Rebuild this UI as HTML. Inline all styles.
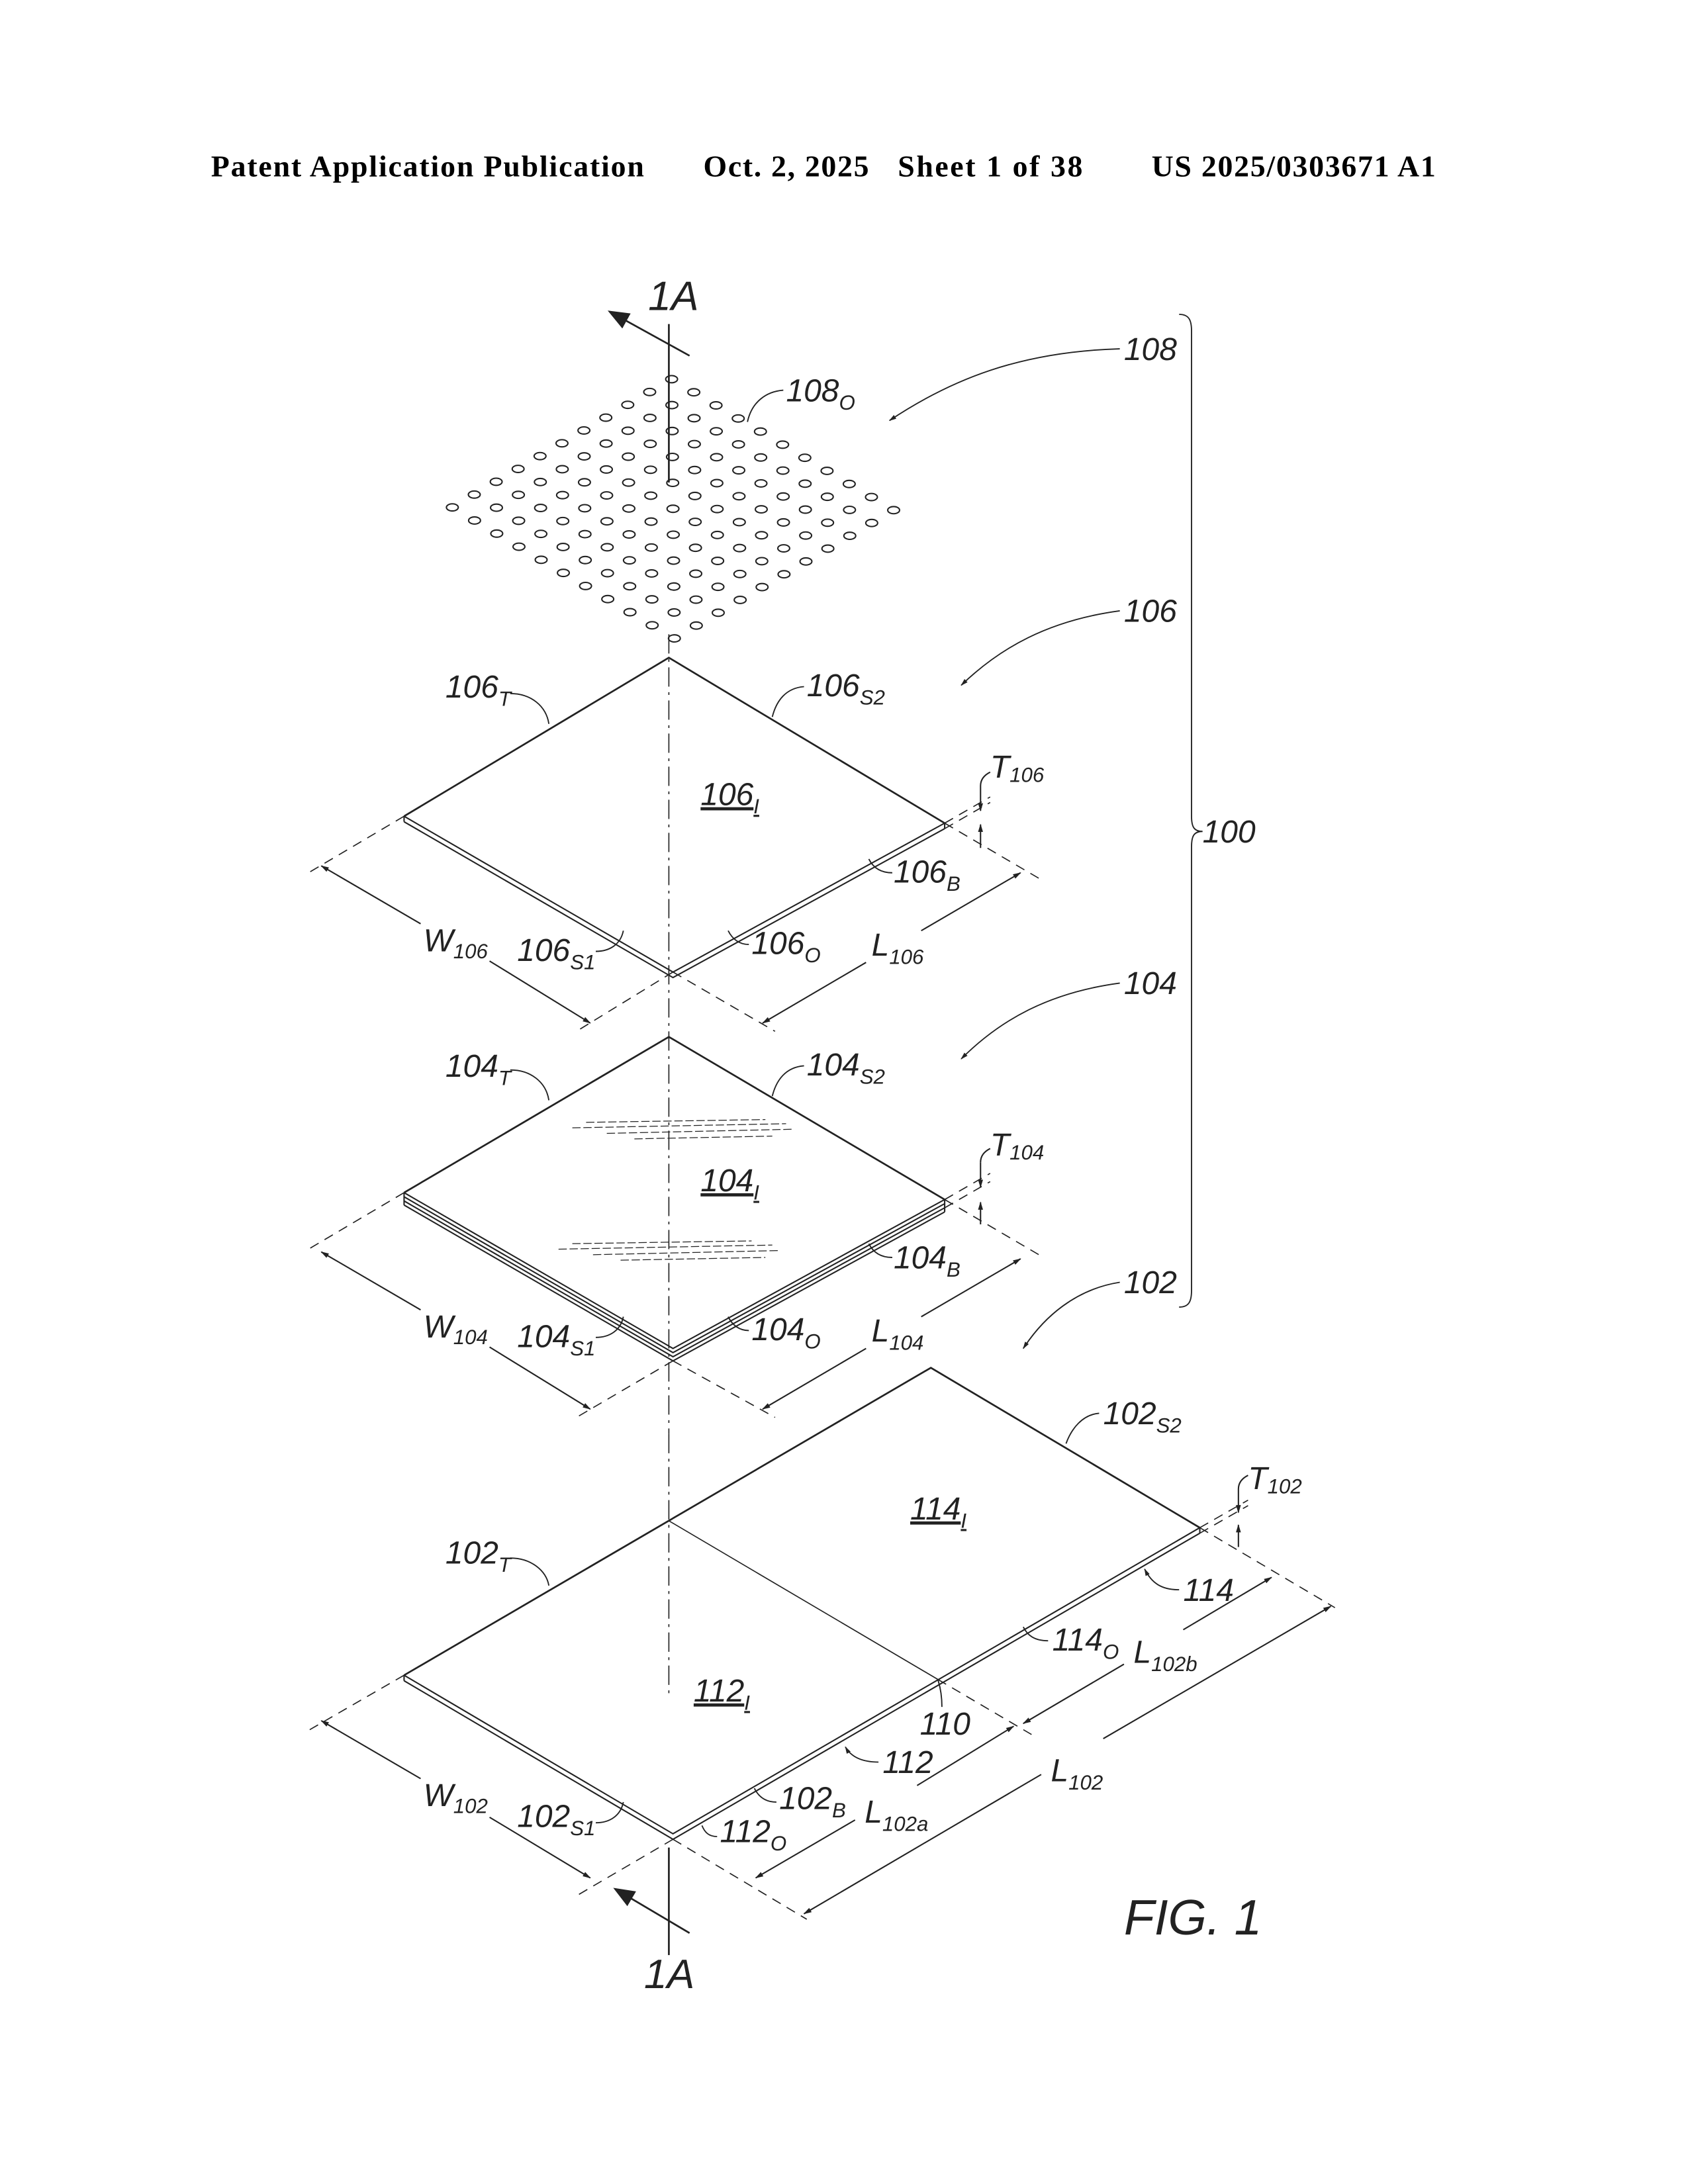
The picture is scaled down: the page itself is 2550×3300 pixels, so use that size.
<!DOCTYPE html>
<html><head><meta charset="utf-8"><style>
html,body{margin:0;padding:0;background:#fff}
svg{display:block}
.l{font-family:"Liberation Sans",sans-serif;font-style:italic;font-size:23px;fill:#222}
.s{font-size:15px}
.h{font-family:"Liberation Serif",serif;font-weight:bold;font-size:22px;fill:#000}
</style></head><body>
<svg width="2550" height="3300" viewBox="0 0 1224 1584" xmlns="http://www.w3.org/2000/svg" xmlns:xlink="http://www.w3.org/1999/xlink">
<defs>
<marker id="a" viewBox="0 0 10 10" refX="9" refY="5" markerWidth="6" markerHeight="6" orient="auto-start-reverse"><path d="M0,2 L10,5 L0,8 z" fill="#222"/></marker>
<marker id="b" viewBox="0 0 10 10" refX="9" refY="5" markerWidth="12" markerHeight="12" orient="auto"><path d="M0,1 L10,5 L0,9 z" fill="#222"/></marker>
<g id="row" fill="none" stroke="#222" stroke-width="1">
<ellipse cx="487" cy="275" rx="4.3" ry="2.6"/><ellipse cx="503.1" cy="284.5" rx="4.3" ry="2.6"/><ellipse cx="519.2" cy="294" rx="4.3" ry="2.6"/><ellipse cx="535.3" cy="303.5" rx="4.3" ry="2.6"/><ellipse cx="551.4" cy="313" rx="4.3" ry="2.6"/><ellipse cx="567.5" cy="322.5" rx="4.3" ry="2.6"/><ellipse cx="583.6" cy="332" rx="4.3" ry="2.6"/><ellipse cx="599.7" cy="341.5" rx="4.3" ry="2.6"/><ellipse cx="615.8" cy="351" rx="4.3" ry="2.6"/><ellipse cx="631.9" cy="360.5" rx="4.3" ry="2.6"/><ellipse cx="648" cy="370" rx="4.3" ry="2.6"/>
</g>
</defs>
<text class="h" x="153" y="128" textLength="314">Patent Application Publication</text>
<text class="h" x="510" y="128" textLength="120">Oct. 2, 2025</text>
<text class="h" x="651" y="128" textLength="134">Sheet 1 of 38</text>
<text class="h" x="835" y="128" textLength="206">US 2025/0303671 A1</text>

<use xlink:href="#row" href="#row"/>
<use xlink:href="#row" href="#row" transform="translate(-15.9,9.3)"/>
<use xlink:href="#row" href="#row" transform="translate(-31.8,18.6)"/>
<use xlink:href="#row" href="#row" transform="translate(-47.7,27.9)"/>
<use xlink:href="#row" href="#row" transform="translate(-63.6,37.2)"/>
<use xlink:href="#row" href="#row" transform="translate(-79.5,46.5)"/>
<use xlink:href="#row" href="#row" transform="translate(-95.4,55.8)"/>
<use xlink:href="#row" href="#row" transform="translate(-111.3,65.1)"/>
<use xlink:href="#row" href="#row" transform="translate(-127.2,74.4)"/>
<use xlink:href="#row" href="#row" transform="translate(-143.1,83.7)"/>
<use xlink:href="#row" href="#row" transform="translate(-159,93)"/>

<g stroke="#222" fill="none" stroke-width="1.3">
<line x1="485" y1="235" x2="485" y2="350"/>
<line x1="500" y1="258" x2="442" y2="226" marker-end="url(#b)"/>
<line x1="485" y1="460" x2="485" y2="1040" stroke-width="0.8" stroke-dasharray="14,4,2,4"/>
<line x1="485" y1="1040" x2="485" y2="1230" stroke-width="0.8" stroke-dasharray="14,4,2,4"/>
<line x1="485" y1="1340" x2="485" y2="1418"/>
<line x1="500" y1="1402" x2="446" y2="1370" marker-end="url(#b)"/>

<path d="M293,592 L485,477 L685,597"/>
<path d="M293,592 L488,705 L685,597 M293,596 L488,709 L685,601 M293,592 L293,596 M685,597 L685,601" stroke-width="1"/>
<path d="M293,865 L485,752 L685,870"/>
<path d="M293,865 L488,978 L685,870 M293,868 L488,981 L685,873 M293,871 L488,984 L685,876 M293,874 L488,987 L685,879 M293,865 L293,874 M685,870 L685,879" stroke-width="1"/>
<path d="M293,1215 L675,992 L870,1108"/>
<path d="M293,1215 L488,1330 L870,1108 M293,1219 L488,1334 L870,1112 M293,1215 L293,1219 M870,1108 L870,1112" stroke-width="1"/>
<line x1="485" y1="1103" x2="680" y2="1218" stroke-width="0.8"/>

<g stroke-width="0.6" stroke-dasharray="6,2">
<line x1="415" y1="818" x2="570" y2="815"/><line x1="425" y1="814" x2="555" y2="812"/><line x1="440" y1="822" x2="575" y2="819"/><line x1="460" y1="826" x2="560" y2="824"/>
<line x1="405" y1="906" x2="560" y2="903"/><line x1="415" y1="902" x2="545" y2="900"/><line x1="430" y1="910" x2="565" y2="907"/><line x1="450" y1="914" x2="555" y2="912"/>
</g>

<g stroke-width="0.8" stroke-dasharray="7,5">
<line x1="293" y1="592" x2="222" y2="634"/><line x1="488" y1="705" x2="418" y2="748"/>
<line x1="488" y1="705" x2="562" y2="748"/><line x1="685" y1="597" x2="755" y2="638"/>
<line x1="685" y1="597" x2="718" y2="578"/><line x1="685" y1="601" x2="718" y2="582"/>
<line x1="293" y1="865" x2="222" y2="907"/><line x1="488" y1="987" x2="418" y2="1028"/>
<line x1="488" y1="987" x2="562" y2="1028"/><line x1="685" y1="870" x2="755" y2="911"/>
<line x1="685" y1="870" x2="718" y2="851"/><line x1="685" y1="876" x2="718" y2="857"/>
<line x1="293" y1="1215" x2="222" y2="1256"/><line x1="488" y1="1334" x2="418" y2="1375"/>
<line x1="488" y1="1334" x2="585" y2="1392"/><line x1="680" y1="1218" x2="748" y2="1258"/>
<line x1="870" y1="1108" x2="968" y2="1166"/>
<line x1="870" y1="1108" x2="905" y2="1088"/><line x1="870" y1="1112" x2="905" y2="1092"/>
</g>
<g stroke-width="1">
<line x1="233" y1="628" x2="305" y2="670" marker-start="url(#a)"/><line x1="355" y1="697" x2="428" y2="742" marker-end="url(#a)"/>
<line x1="553" y1="742" x2="628" y2="698" marker-start="url(#a)"/><line x1="668" y1="675" x2="740" y2="633" marker-end="url(#a)"/>
<line x1="233" y1="908" x2="305" y2="950" marker-start="url(#a)"/><line x1="355" y1="977" x2="428" y2="1022" marker-end="url(#a)"/>
<line x1="553" y1="1022" x2="628" y2="978" marker-start="url(#a)"/><line x1="668" y1="955" x2="740" y2="913" marker-end="url(#a)"/>
<line x1="233" y1="1248" x2="305" y2="1290" marker-start="url(#a)"/><line x1="355" y1="1318" x2="428" y2="1362" marker-end="url(#a)"/>
<line x1="548" y1="1362" x2="620" y2="1320" marker-start="url(#a)"/><line x1="665" y1="1295" x2="735" y2="1252" marker-end="url(#a)"/>
<line x1="742" y1="1250" x2="815" y2="1207" marker-start="url(#a)"/><line x1="858" y1="1182" x2="922" y2="1144" marker-end="url(#a)"/>
<line x1="583" y1="1388" x2="755" y2="1287" marker-start="url(#a)"/><line x1="800" y1="1261" x2="965" y2="1165" marker-end="url(#a)"/>
<line x1="711" y1="570" x2="711" y2="588" marker-end="url(#a)"/><line x1="711" y1="615" x2="711" y2="598" marker-end="url(#a)"/><path d="M711,570 C711,565 714,562 718,560"/>
<line x1="711" y1="843" x2="711" y2="861" marker-end="url(#a)"/><line x1="711" y1="888" x2="711" y2="872" marker-end="url(#a)"/><path d="M711,843 C711,838 714,835 718,833"/>
<line x1="898" y1="1080" x2="898" y2="1097" marker-end="url(#a)"/><line x1="898" y1="1122" x2="898" y2="1106" marker-end="url(#a)"/><path d="M898,1080 C898,1075 901,1072 905,1070"/>
</g>

<g stroke-width="0.9">
<path d="M812,253 C740,255 690,275 645,305" marker-end="url(#a)"/>
<path d="M812,443 C760,450 725,470 697,497" marker-end="url(#a)"/>
<path d="M812,713 C760,720 725,740 697,768" marker-end="url(#a)"/>
<path d="M812,930 C780,935 757,955 742,978" marker-end="url(#a)"/>
<path d="M568,283 C555,284 545,292 542,306"/>
<path d="M370,503 C385,503 396,512 398,525"/>
<path d="M583,498 C570,499 563,508 560,520"/>
<path d="M370,776 C385,776 396,785 398,798"/>
<path d="M583,773 C570,774 563,783 560,795"/>
<path d="M370,1130 C385,1130 396,1139 398,1150"/>
<path d="M797,1025 C785,1026 777,1036 773,1047"/>
<path d="M647,633 C638,633 633,629 630,623"/>
<path d="M647,912 C638,912 633,908 630,902"/>
<path d="M543,685 C536,685 531,681 528,675"/>
<path d="M543,965 C536,965 531,961 528,955"/>
<path d="M432,690 C442,690 450,685 452,675"/>
<path d="M432,970 C442,970 450,965 452,955"/>
<path d="M432,1322 C442,1322 450,1317 452,1307"/>
<path d="M760,1190 C750,1190 745,1186 742,1180"/>
<path d="M855,1153 C842,1153 835,1148 830,1138" marker-end="url(#a)"/>
<path d="M637,1278 C625,1278 617,1274 613,1267" marker-end="url(#a)"/>
<path d="M563,1307 C555,1307 550,1303 547,1297"/>
<path d="M520,1332 C514,1332 511,1329 509,1324"/>
<path d="M683,1238 C683,1230 682,1224 680,1218"/>
<path d="M855,228 C862,228 864,232 864,240 L864,592 C864,600 866,603 872,603 C866,603 864,606 864,614 L864,936 C864,944 862,948 855,948"/>
</g>
</g>

<g class="l">
<text x="470" y="225" font-size="30">1A</text>
<text x="467" y="1442" font-size="30">1A</text>
<text x="815" y="261">108</text>
<text x="570" y="291">108<tspan class="s" dy="6">O</tspan></text>
<text x="815" y="451">106</text>
<text x="815" y="721">104</text>
<text x="815" y="938">102</text>
<text x="872" y="611">100</text>
<text x="323" y="506">106<tspan class="s" dy="6">T</tspan></text>
<text x="585" y="505">106<tspan class="s" dy="6">S2</tspan></text>
<text x="508" y="584" text-decoration="underline">106<tspan class="s" dy="6">I</tspan></text>
<text x="718" y="564">T<tspan class="s" dy="3">106</tspan></text>
<text x="648" y="640">106<tspan class="s" dy="6">B</tspan></text>
<text x="307" y="690">W<tspan class="s" dy="5">106</tspan></text>
<text x="375" y="697">106<tspan class="s" dy="6">S1</tspan></text>
<text x="545" y="692">106<tspan class="s" dy="6">O</tspan></text>
<text x="632" y="693">L<tspan class="s" dy="6">106</tspan></text>
<text x="323" y="781">104<tspan class="s" dy="6">T</tspan></text>
<text x="585" y="780">104<tspan class="s" dy="6">S2</tspan></text>
<text x="508" y="864" text-decoration="underline">104<tspan class="s" dy="6">I</tspan></text>
<text x="718" y="838">T<tspan class="s" dy="3">104</tspan></text>
<text x="648" y="920">104<tspan class="s" dy="6">B</tspan></text>
<text x="307" y="970">W<tspan class="s" dy="5">104</tspan></text>
<text x="375" y="977">104<tspan class="s" dy="6">S1</tspan></text>
<text x="545" y="972">104<tspan class="s" dy="6">O</tspan></text>
<text x="632" y="973">L<tspan class="s" dy="6">104</tspan></text>
<text x="800" y="1033">102<tspan class="s" dy="6">S2</tspan></text>
<text x="660" y="1102" text-decoration="underline">114<tspan class="s" dy="6">I</tspan></text>
<text x="905" y="1080">T<tspan class="s" dy="3">102</tspan></text>
<text x="323" y="1134">102<tspan class="s" dy="6">T</tspan></text>
<text x="503" y="1234" text-decoration="underline">112<tspan class="s" dy="6">I</tspan></text>
<text x="858" y="1161">114</text>
<text x="763" y="1197">114<tspan class="s" dy="6">O</tspan></text>
<text x="822" y="1206">L<tspan class="s" dy="6">102b</tspan></text>
<text x="667" y="1258">110</text>
<text x="640" y="1286">112</text>
<text x="565" y="1312">102<tspan class="s" dy="6">B</tspan></text>
<text x="627" y="1322">L<tspan class="s" dy="6">102a</tspan></text>
<text x="762" y="1292">L<tspan class="s" dy="6">102</tspan></text>
<text x="307" y="1310">W<tspan class="s" dy="5">102</tspan></text>
<text x="375" y="1325">102<tspan class="s" dy="6">S1</tspan></text>
<text x="522" y="1336">112<tspan class="s" dy="6">O</tspan></text>
<text x="815" y="1403" font-size="36">FIG. 1</text>
</g>
</svg>
</body></html>
